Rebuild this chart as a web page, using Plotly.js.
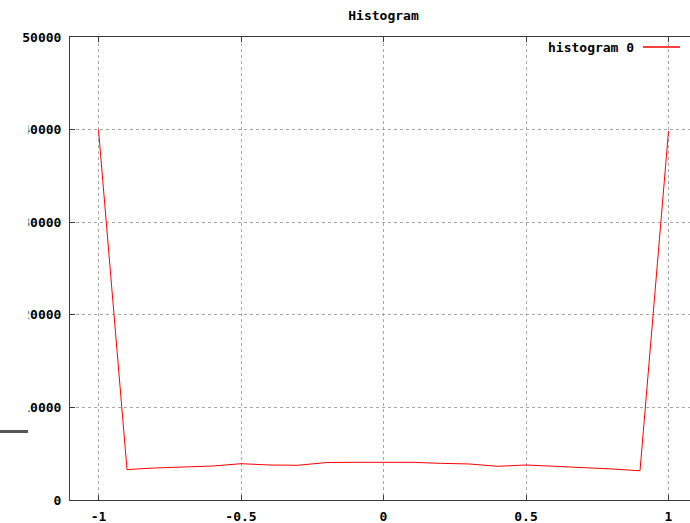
<!DOCTYPE html>
<html>
<head>
<meta charset="utf-8">
<script src="https://cdn.plot.ly/plotly-3.0.1.min.js"></script>
<style>
  html, body { margin: 0; padding: 0; overflow: hidden; background: #fff; }
  #chart { width: 707px; height: 523px; }
</style>
</head>
<body>
<div id="chart"></div>
<script>
// Histogram bins (x) and counts per bin
const binCenters = [-1, -0.9, -0.8, -0.7, -0.6, -0.5, -0.4, -0.3, -0.2, -0.1, 0,
                    0.1, 0.2, 0.3, 0.4, 0.5, 0.6, 0.7, 0.8, 0.9, 1];
const counts = [40000, 3290, 3460, 3560, 3670, 3920, 3780, 3750, 4050, 4070, 4070,
                4070, 3960, 3890, 3640, 3780, 3640, 3510, 3350, 3160, 39840];
const seriesName = 'histogram 0';
const yTicks = [0, 10000, 20000, 30000, 40000, 50000];
const xTicks = [-1, -0.5, 0, 0.5, 1];

// Plot box in pixels
const W = 707, H = 523;
const M = { l: 70, r: 10, t: 37, b: 23 };
const PW = W - M.l - M.r, PH = H - M.t - M.b;
const px = x => (x - M.l) / PW;          // page x -> paper x
const py = y => (H - M.b - y) / PH;      // page y -> paper y

const font = { family: 'DejaVu Sans Mono, monospace', size: 13, color: '#000', weight: 'bold' };
const axisCommon = {
  showline: true, linecolor: '#3a3a3a', linewidth: 1, mirror: 'ticks',
  ticks: 'inside', ticklen: 5, tickcolor: '#3a3a3a', tickwidth: 1,
  showgrid: true, gridcolor: '#a8a8a8', gridwidth: 1, griddash: '3px,3px',
  zeroline: false, tickfont: font
};

const trace = {
  x: binCenters, y: counts, name: seriesName,
  type: 'scatter', mode: 'lines',
  line: { color: '#ff0000', width: 1 },
  showlegend: false, hoverinfo: 'skip'
};

const layout = {
  width: W, height: H, margin: M,
  paper_bgcolor: '#fff', plot_bgcolor: '#fff',
  font: font,
  title: { text: 'Histogram', font: font, xref: 'paper', x: 0.5, xanchor: 'center',
           yref: 'container', y: 1 - 15 / H, yanchor: 'middle' },
  xaxis: Object.assign({}, axisCommon, {
    range: [-1.1, 1.1], tickvals: xTicks, ticktext: xTicks.map(String),
    ticklabelstandoff: 4
  }),
  yaxis: Object.assign({}, axisCommon, {
    range: [0, 50000], tickvals: yTicks, ticktext: yTicks.map(String),
    ticklabelstandoff: 5
  }),
  annotations: [{
    text: seriesName, xref: 'paper', yref: 'paper',
    x: px(636), y: py(47.5), xanchor: 'right', yanchor: 'middle',
    showarrow: false, font: font
  }],
  shapes: [
    // legend sample line
    { type: 'line', xref: 'paper', yref: 'paper', layer: 'above',
      x0: px(643), x1: px(680), y0: py(47), y1: py(47),
      line: { color: '#ff0000', width: 1.5 } },
    // panel that overlaps the left edge of the window
    { type: 'rect', xref: 'paper', yref: 'paper', layer: 'above',
      x0: px(0), x1: px(28.5), y0: py(428), y1: py(45),
      fillcolor: '#fff', line: { width: 0 } },
    { type: 'rect', xref: 'paper', yref: 'paper', layer: 'above',
      x0: px(0), x1: px(28), y0: py(433), y1: py(430),
      fillcolor: '#555', line: { width: 0 } }
  ]
};

Plotly.newPlot('chart', [trace], layout, { staticPlot: true, displayModeBar: false });
</script>
</body>
</html>
